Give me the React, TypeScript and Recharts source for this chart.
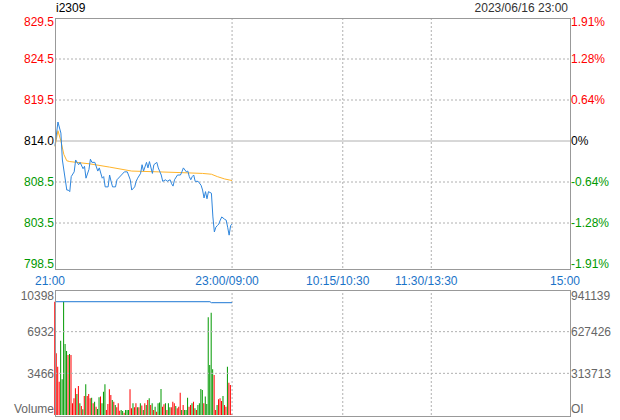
import React from 'react';
import { Bar, Cell, ComposedChart, Line, ReferenceLine, XAxis, YAxis } from 'recharts';

const symbol = 'i2309';
const stamp = '2023/06/16 23:00';
const preClose = 814;
const maxPct = 1.91;

// one slot per minute, sessions 21:00-23:00, 09:00-10:15, 10:30-11:30, 13:30-15:00
const timeSlots = [0, 120, 195, 255, 349];
const timeLabels = ['21:00', '23:00/09:00', '10:15/10:30', '11:30/13:30', '15:00'];

const priceLabels = ['829.5', '824.5', '819.5', '814.0', '808.5', '803.5', '798.5'];
const pctLabels = ['1.91%', '1.28%', '0.64%', '0%', '-0.64%', '-1.28%', '-1.91%'];

const priceMinutes = [0, 2, 4, 5, 8, 9, 10, 11, 13, 14, 16, 17, 19, 20, 21, 23, 24, 25, 27, 29, 30, 32, 33, 34, 36, 37, 38, 39, 41, 42, 45, 47, 49, 51, 52, 54, 55, 56, 58, 59, 60, 62, 63, 64, 66, 67, 69, 70, 72, 73, 75, 76, 78, 79, 80, 81, 83, 85, 86, 87, 89, 90, 91, 92, 93, 94, 95, 97, 99, 100, 101, 102, 103, 104, 106, 107, 108, 109, 110, 111, 112, 113, 115, 116, 117, 118, 119, 120];
const prices = [813.4, 816.4, 815.0, 811.6, 807.8, 807.8, 807.6, 809.5, 810.1, 811.6, 811.0, 811.3, 810.5, 810.8, 809.3, 810.4, 811.7, 811.3, 811.3, 810.2, 810.6, 809.3, 809.5, 808.2, 808.2, 809.7, 808.9, 808.2, 808.2, 809.1, 809.7, 810.1, 810.1, 809.1, 807.8, 808.2, 808.9, 809.3, 809.9, 811.0, 810.2, 811.3, 810.6, 811.4, 809.9, 811.0, 811.3, 810.6, 809.7, 808.9, 809.1, 808.9, 809.1, 808.6, 808.3, 809.1, 809.7, 809.7, 810.1, 810.6, 810.1, 810.2, 809.5, 809.1, 809.5, 809.7, 808.9, 808.9, 808.4, 807.8, 806.8, 807.6, 806.7, 807.6, 807.4, 804.4, 802.5, 803.1, 803.3, 803.5, 804.0, 804.4, 804.1, 804.0, 803.1, 802.1, 803.3, 803.5];

const avgMinutes = [0, 2, 4, 6, 8, 10, 24, 37, 52, 70, 86, 100, 106, 110, 115, 120];
const avgPrices = [813.3, 815.3, 814.0, 812.3, 811.5, 811.4, 811.1, 810.7, 810.2, 810.1, 810.0, 809.9, 809.8, 809.5, 809.2, 809.0];

const volumes = [9430, 5130, 4020, 2770, 6180, 2970, 9430, 5910, 5320, 4990, 5080, 4990, 970, 1390, 2220, 1750, 2410, 970, 750, 470, 1580, 2550, 1580, 1750, 1390, 1440, 970, 1110, 690, 500, 1470, 1530, 970, 1940, 2550, 420, 920, 2140, 1660, 1250, 1110, 830, 640, 970, 360, 420, 330, 190, 420, 420, 420, 2140, 560, 970, 640, 970, 640, 640, 970, 780, 420, 970, 830, 1250, 1390, 830, 970, 420, 690, 280, 970, 1050, 2160, 690, 890, 970, 420, 970, 640, 640, 1110, 970, 750, 560, 690, 1860, 420, 830, 420, 420, 1440, 690, 830, 970, 1110, 560, 420, 830, 970, 2160, 2080, 970, 1530, 920, 8130, 4160, 8510, 3800, 3330, 420, 830, 1300, 1390, 1170, 1580, 830, 690, 4020, 2690, 2500, 80];
// 1 = up (red), 0 = down (green)
const volumeUp = [1, 1, 1, 1, 0, 0, 0, 0, 0, 1, 0, 1, 1, 1, 1, 0, 1, 0, 1, 0, 1, 0, 1, 1, 1, 0, 1, 0, 1, 0, 0, 1, 0, 0, 0, 1, 1, 1, 1, 0, 1, 0, 1, 1, 1, 0, 0, 1, 0, 0, 0, 1, 1, 0, 1, 1, 0, 1, 0, 1, 0, 1, 0, 1, 0, 1, 0, 1, 0, 1, 0, 0, 0, 1, 1, 0, 1, 0, 0, 1, 1, 1, 0, 1, 1, 1, 0, 1, 0, 0, 0, 1, 1, 0, 1, 0, 1, 0, 0, 0, 0, 1, 0, 0, 0, 0, 0, 0, 1, 1, 0, 1, 1, 1, 0, 1, 1, 0, 1, 1, 1];

const oiMinutes = [0, 105, 106, 120];
const oiValues = [853000, 853000, 845500, 845500];

const volTicks = [10398, 6932, 3466, 0];
const volLabels = ['10398', '6932', '3466', 'Volume'];
const oiTicks = [941139, 627426, 313713, 0];
const oiLabels = ['941139', '627426', '313713', 'OI'];

const font = '"Liberation Sans", Arial, sans-serif';
const RED = '#ff0000';
const GREEN = '#009900';
const GRID = '#b0b0b0';

const hi = preClose * (1 + maxPct / 100);
const lo = preClose * (1 - maxPct / 100);
const priceTicks = priceLabels.map((_, i) => hi - (i * (hi - lo)) / 6);
const priceDomain = [lo - (hi - lo) * 4 / 246, hi];

const topMap: Record<number, any> = {};
priceMinutes.forEach((t, i) => { topMap[t] = { ...(topMap[t] || { t }), price: prices[i] }; });
avgMinutes.forEach((t, i) => { topMap[t] = { ...(topMap[t] || { t }), avg: avgPrices[i] }; });
const topData = Object.values(topMap).sort((a: any, b: any) => a.t - b.t);

const bottomData = volumes.map((v, i) => {
  const k = oiMinutes.indexOf(i);
  return { t: i, vol: v, oi: k >= 0 ? oiValues[k] : null };
});

const idxOf = (arr: number[], v: number) => arr.findIndex(a => Math.abs(a - v) < 1e-6);
const sideColor = (i: number) => (i < 3 ? RED : i === 3 ? '#000' : GREEN);

const leftPriceTick = (p: any) => {
  const i = idxOf(priceTicks, p.payload.value);
  return (
    <text x={54} y={p.y + (i === 0 ? 4 : 0)} dy="0.35em" textAnchor="end" fill={sideColor(i)} fontSize={12} fontFamily={font}>
      {priceLabels[i]}
    </text>
  );
};

const rightPctTick = (p: any) => {
  const i = idxOf(priceTicks, p.payload.value);
  return (
    <text x={571} y={p.y + (i === 0 ? 4 : 0)} dy="0.35em" textAnchor="start" fill={sideColor(i)} fontSize={12} fontFamily={font}>
      {pctLabels[i]}
    </text>
  );
};

const timeTick = (p: any) => {
  const i = timeSlots.indexOf(p.payload.value);
  return (
    <text x={p.x - 5} y={281} dy="0.35em" textAnchor="middle" fill="#1a73c8" fontSize={12} fontFamily={font}>
      {timeLabels[i]}
    </text>
  );
};

const edgeShift = (i: number, n: number) => (i === 0 ? 6 : i === n - 1 ? -6 : 0);

const volTick = (p: any) => {
  const i = volTicks.indexOf(p.payload.value);
  return (
    <text x={54} y={p.y + edgeShift(i, volTicks.length)} dy="0.35em" textAnchor="end" fill="#666" fontSize={12} fontFamily={font}>
      {volLabels[i]}
    </text>
  );
};

const oiTick = (p: any) => {
  const i = oiTicks.indexOf(p.payload.value);
  return (
    <text x={571} y={p.y + edgeShift(i, oiTicks.length)} dy="0.35em" textAnchor="start" fill="#666" fontSize={12} fontFamily={font}>
      {oiLabels[i]}
    </text>
  );
};

const border = (top: number, height: number): React.CSSProperties => ({
  position: 'absolute', left: 55, top, width: 514, height: height - 1,
  border: '1px solid #999', pointerEvents: 'none',
});

export default function App() {
  return (
    <div style={{ position: 'absolute', left: 0, top: 0, width: 620, height: 420, background: '#fff', fontFamily: font }}>
      <div style={{ position: 'absolute', left: 56, top: 1, fontSize: 12, color: '#000' }}>{symbol}</div>
      <div style={{ position: 'absolute', right: 52, top: 1, fontSize: 12, color: '#333' }}>{stamp}</div>

      <div style={{ position: 'absolute', left: 0, top: 0 }}>
        <ComposedChart width={620} height={290} data={topData} margin={{ top: 18, right: 0, bottom: 0, left: 0 }}>
          <XAxis dataKey="t" type="number" domain={[0, timeSlots[timeSlots.length - 1]]} ticks={timeSlots} interval={0}
            tickLine={false} axisLine={false} height={22} tick={timeTick} />
          <YAxis yAxisId="price" orientation="left" width={55} type="number" domain={priceDomain} ticks={priceTicks}
            interval={0} allowDataOverflow tickLine={false} axisLine={false} tick={leftPriceTick} />
          <YAxis yAxisId="pct" orientation="right" width={50} type="number" domain={priceDomain} ticks={priceTicks}
            interval={0} allowDataOverflow tickLine={false} axisLine={false} tick={rightPctTick} />
          {priceTicks.slice(1, 6).map((v, i) => (
            <ReferenceLine key={`h${i}`} yAxisId="price" y={v} stroke={GRID} strokeDasharray={i === 2 ? undefined : '2 2'} />
          ))}
          {timeSlots.slice(1, 4).map((v, i) => (
            <ReferenceLine key={`v${i}`} yAxisId="price" x={v} stroke={GRID} strokeDasharray="2 2" />
          ))}
          <Line yAxisId="pct" dataKey="avg" stroke="#ffb42a" strokeWidth={1} dot={false} connectNulls isAnimationActive={false} />
          <Line yAxisId="price" dataKey="price" stroke="#2f86dd" strokeWidth={1} dot={false} connectNulls isAnimationActive={false} />
        </ComposedChart>
      </div>
      <div style={border(18, 251)} />

      <div style={{ position: 'absolute', left: 0, top: 272 }}>
        <ComposedChart width={620} height={148} data={bottomData} margin={{ top: 18, right: 0, bottom: 5, left: 0 }}>
          <XAxis dataKey="t" type="number" domain={[0, timeSlots[timeSlots.length - 1]]} hide />
          <YAxis yAxisId="vol" orientation="left" width={55} type="number" domain={[0, volTicks[0]]} ticks={volTicks}
            interval={0} allowDataOverflow tickLine={false} axisLine={false} tick={volTick} />
          <YAxis yAxisId="oi" orientation="right" width={50} type="number" domain={[0, oiTicks[0]]} ticks={oiTicks}
            interval={0} allowDataOverflow tickLine={false} axisLine={false} tick={oiTick} />
          {volTicks.slice(1, 3).map((v, i) => (
            <ReferenceLine key={`vh${i}`} yAxisId="vol" y={v} stroke={GRID} strokeDasharray="2 2" />
          ))}
          {timeSlots.slice(1, 4).map((v, i) => (
            <ReferenceLine key={`vv${i}`} yAxisId="vol" x={v} stroke={GRID} strokeDasharray="2 2" />
          ))}
          <Bar yAxisId="vol" dataKey="vol" barSize={1} isAnimationActive={false}>
            {bottomData.map((d, i) => (
              <Cell key={`c${i}`} fill={volumeUp[i] ? RED : GREEN} />
            ))}
          </Bar>
          <Line yAxisId="oi" dataKey="oi" stroke="#1e78d4" strokeWidth={1} dot={false} connectNulls isAnimationActive={false} />
        </ComposedChart>
      </div>
      <div style={border(290, 126)} />
    </div>
  );
}
